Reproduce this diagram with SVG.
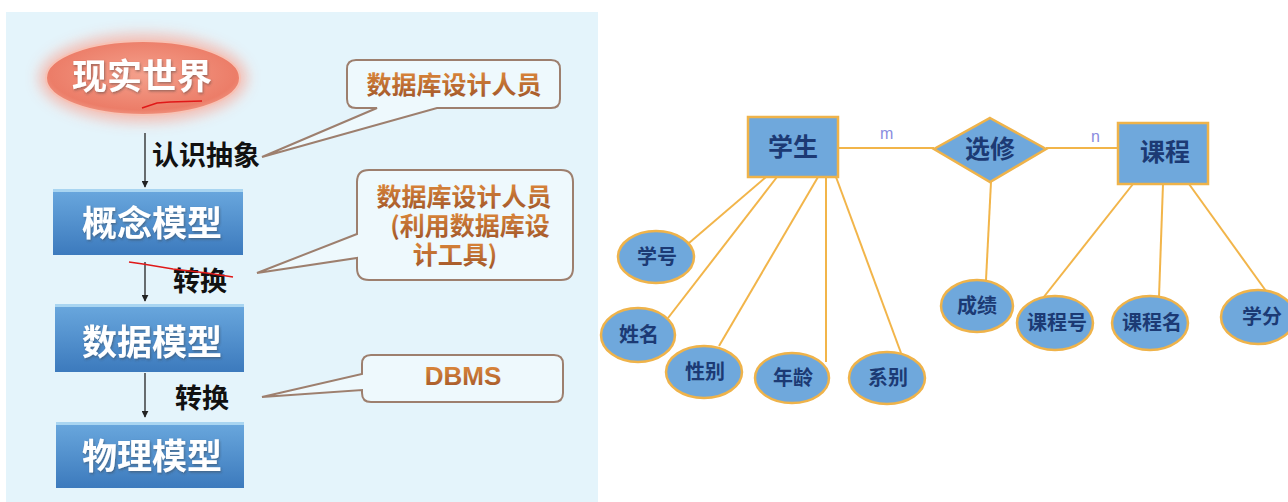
<svg xmlns="http://www.w3.org/2000/svg" width="1288" height="502" viewBox="0 0 1288 502">
<defs>
<style>
.cjk{font-family:"Noto Sans CJK SC","Noto Sans",sans-serif;}
.boxtxt{font-size:35px;font-weight:bold;fill:#ffffff;text-anchor:middle;}
.lbl{font-size:27px;font-weight:bold;fill:#111111;}
.callt{font-size:25px;font-weight:bold;fill:url(#orangeTxt);}
.callout{fill:#eef9fd;stroke:#9d7f6e;stroke-width:2;}
.arrow{stroke:#222;stroke-width:1.3;fill:none;marker-end:url(#ah);}
.red{stroke:#e01818;stroke-width:1.6;fill:none;}
.ent{fill:#6fa8dc;stroke:#efb34a;stroke-width:2.5;}
.attr{fill:#6fa8dc;stroke:#efb34a;stroke-width:2.5;}
.ertxt{font-weight:bold;fill:#1c3a74;text-anchor:middle;}
.erl{stroke:#f2b54a;stroke-width:2;fill:none;}
.card{font-family:"Liberation Sans",sans-serif;font-size:16px;fill:#8a8ce0;}
</style>
<linearGradient id="blueBox" x1="0" y1="0" x2="0" y2="1">
<stop offset="0" stop-color="#6aa8de"/>
<stop offset="1" stop-color="#3c7abd"/>
</linearGradient>
<linearGradient id="orangeTxt" x1="0" y1="0" x2="0" y2="1">
<stop offset="0" stop-color="#e8913e"/>
<stop offset="1" stop-color="#9c5228"/>
</linearGradient>
<radialGradient id="salmon" cx="0.5" cy="0.45" r="0.6">
<stop offset="0" stop-color="#f4a08c"/>
<stop offset="0.8" stop-color="#ec7d68"/>
<stop offset="1" stop-color="#f1a08e"/>
</radialGradient>
<filter id="glow" x="-30%" y="-40%" width="160%" height="180%">
<feGaussianBlur stdDeviation="7"/>
</filter>
<filter id="tsh" x="-10%" y="-10%" width="120%" height="130%">
<feDropShadow dx="1" dy="1.5" stdDeviation="1" flood-color="#3a3a3a" flood-opacity="0.45"/>
</filter>
<marker id="ah" viewBox="0 0 10 10" refX="9" refY="5" markerWidth="7" markerHeight="7" orient="auto" markerUnits="userSpaceOnUse">
<path d="M0,0 L10,5 L0,10 Z" fill="#222"/>
</marker>
</defs>

<rect x="0" y="0" width="1288" height="502" fill="#ffffff"/>
<rect x="6" y="12" width="592" height="490" fill="#e4f4fb"/>

<g id="node-real-world">
<ellipse cx="143" cy="78" rx="104" ry="44" fill="#f6b7ab" filter="url(#glow)" opacity="0.9"/>
<ellipse cx="143" cy="78" rx="97" ry="37" fill="url(#salmon)" stroke="#f7c2b5" stroke-width="2"/>
<text class="cjk boxtxt" x="142" y="89" filter="url(#tsh)">现实世界</text>
<polyline class="red" points="142,108 157,103 170,102 202,101"/>
</g>

<g id="node-concept-model">
<rect x="53" y="189" width="190" height="66" fill="url(#blueBox)"/>
<rect x="53" y="189" width="190" height="3" fill="#a9d5f1"/>
<text class="cjk boxtxt" x="152" y="236" filter="url(#tsh)">概念模型</text>
</g>

<g id="node-data-model">
<rect x="55" y="304" width="189" height="68" fill="url(#blueBox)"/>
<rect x="55" y="304" width="189" height="3" fill="#a9d5f1"/>
<text class="cjk boxtxt" x="152" y="355" filter="url(#tsh)">数据模型</text>
</g>

<g id="node-physical-model">
<rect x="56" y="422" width="188" height="66" fill="url(#blueBox)"/>
<rect x="56" y="422" width="188" height="3" fill="#a9d5f1"/>
<text class="cjk boxtxt" x="152" y="469" filter="url(#tsh)">物理模型</text>
</g>

<g id="node-callout-designer">
<path class="callout" d="M356,60 H551 Q560,60 560,69 V99 Q560,108 551,108 H437 L262,157 L377,108 H356 Q347,108 347,99 V69 Q347,60 356,60 Z"/>
<text class="cjk callt" x="454" y="94" text-anchor="middle">数据库设计人员</text>
</g>

<g id="node-callout-tool">
<path class="callout" d="M369,170 H561 Q573,170 573,182 V268 Q573,280 561,280 H369 Q357,280 357,268 V258 L257,273 L357,234 V182 Q357,170 369,170 Z"/>
<text class="cjk callt" x="464" y="206" text-anchor="middle">数据库设计人员</text>
<text class="cjk callt" x="470" y="235" text-anchor="middle">(利用数据库设</text>
<text class="cjk callt" x="455" y="264" text-anchor="middle">计工具)</text>
</g>

<g id="node-callout-dbms">
<path class="callout" d="M371,355 H554 Q563,355 563,364 V393 Q563,402 554,402 H371 Q362,402 362,393 V390 L262,397 L362,374 V364 Q362,355 371,355 Z"/>
<text x="463" y="385" text-anchor="middle" font-family="Liberation Sans, sans-serif" font-size="26" font-weight="bold" fill="url(#orangeTxt)">DBMS</text>
</g>

<g id="connectors-left">
<line class="arrow" x1="145" y1="133" x2="145" y2="187"/>
<text class="cjk lbl" x="152" y="165">认识抽象</text>
<line class="arrow" x1="145" y1="262" x2="145" y2="301"/>
<text class="cjk lbl" x="173" y="291">转换</text>
<polyline class="red" points="129,262 143,264 173,269 207,273 233,277"/>
<line class="arrow" x1="145" y1="373" x2="145" y2="417"/>
<text class="cjk lbl" x="175" y="408">转换</text>
</g>

<g id="connectors-er">
<line class="erl" x1="838" y1="148" x2="934" y2="148"/>
<line class="erl" x1="1046" y1="148" x2="1118" y2="148"/>
<line class="erl" x1="766" y1="177" x2="689" y2="243"/>
<line class="erl" x1="777" y1="177" x2="668" y2="318"/>
<line class="erl" x1="818" y1="177" x2="719" y2="346"/>
<line class="erl" x1="826" y1="177" x2="826" y2="362"/>
<line class="erl" x1="836" y1="177" x2="901" y2="353"/>
<line class="erl" x1="991" y1="182" x2="986" y2="280"/>
<line class="erl" x1="1133" y1="184" x2="1043" y2="298"/>
<line class="erl" x1="1163" y1="184" x2="1159" y2="297"/>
<line class="erl" x1="1189" y1="184" x2="1266" y2="291"/>
<text class="card" x="880" y="139">m</text>
<text class="card" x="1091" y="142">n</text>
</g>

<g id="node-student">
<rect class="ent" x="748" y="117" width="90" height="60"/>
<text class="cjk ertxt" x="793" y="156" font-size="25">学生</text>
</g>
<g id="node-select">
<polygon class="ent" points="990,118 1046,149 990,182 934,149"/>
<text class="cjk ertxt" x="990" y="158" font-size="25">选修</text>
</g>
<g id="node-course">
<rect class="ent" x="1118" y="123" width="90" height="61"/>
<text class="cjk ertxt" x="1165" y="161" font-size="25">课程</text>
</g>

<g id="node-sno"><ellipse class="attr" cx="656" cy="257" rx="38" ry="26"/><text class="cjk ertxt" x="657" y="264" font-size="20">学号</text></g>
<g id="node-sname"><ellipse class="attr" cx="638" cy="335" rx="37" ry="27"/><text class="cjk ertxt" x="639" y="342" font-size="20">姓名</text></g>
<g id="node-sex"><ellipse class="attr" cx="704" cy="372" rx="38" ry="26"/><text class="cjk ertxt" x="705" y="379" font-size="20">性别</text></g>
<g id="node-age"><ellipse class="attr" cx="792" cy="378" rx="37" ry="25"/><text class="cjk ertxt" x="793" y="385" font-size="20">年龄</text></g>
<g id="node-dept"><ellipse class="attr" cx="887" cy="378" rx="38" ry="26"/><text class="cjk ertxt" x="888" y="385" font-size="20">系别</text></g>
<g id="node-grade"><ellipse class="attr" cx="977" cy="306" rx="36" ry="26"/><text class="cjk ertxt" x="977" y="313" font-size="20">成绩</text></g>
<g id="node-cno"><ellipse class="attr" cx="1055" cy="323" rx="38" ry="27"/><text class="cjk ertxt" x="1057" y="330" font-size="20">课程号</text></g>
<g id="node-cname"><ellipse class="attr" cx="1150" cy="323" rx="38" ry="27"/><text class="cjk ertxt" x="1152" y="330" font-size="20">课程名</text></g>
<g id="node-credit"><ellipse class="attr" cx="1258" cy="317" rx="37" ry="27"/><text class="cjk ertxt" x="1262" y="324" font-size="20">学分</text></g>
</svg>
